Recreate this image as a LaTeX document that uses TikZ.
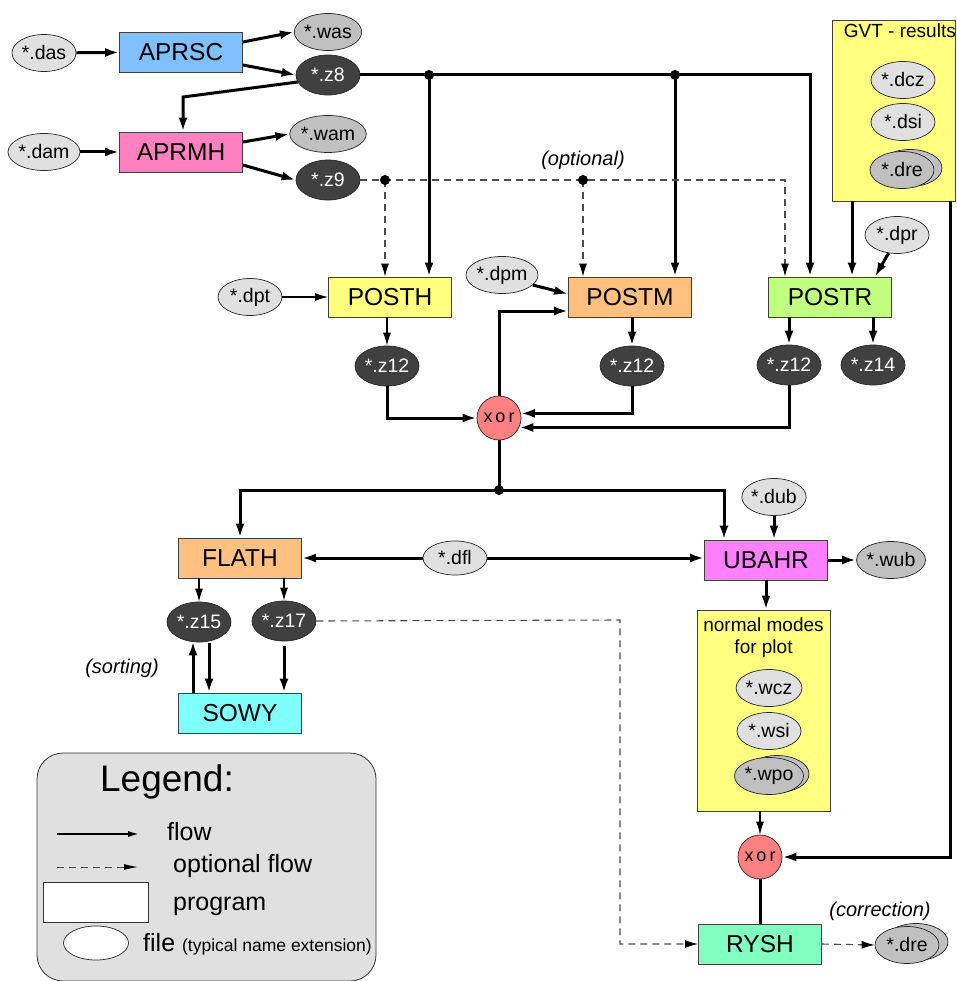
\documentclass[tikz,border=0pt]{standalone}
\usepackage{fontspec}
\setmainfont{Liberation Sans}
\usetikzlibrary{shapes.geometric,arrows.meta}
\definecolor{cblue}{HTML}{80C0FF}
\definecolor{cpink}{HTML}{FF80C0}
\definecolor{cyel}{HTML}{FFFF80}
\definecolor{corange}{HTML}{FFC080}
\definecolor{cgreen}{HTML}{C0FF80}
\definecolor{ccyan}{HTML}{80FFFF}
\definecolor{cmag}{HTML}{FF80FF}
\definecolor{cmint}{HTML}{80FFC0}
\definecolor{cxor}{HTML}{FF8080}
\definecolor{flight}{HTML}{E0E0E0}
\definecolor{fmid}{HTML}{C0C0C0}
\definecolor{fdark}{HTML}{404040}
\begin{document}
\begin{tikzpicture}[x=1pt,y=-1pt,
  prog/.style={draw=black!75, line width=0.8pt, minimum width=123pt, minimum height=40pt, inner sep=0pt, font=\fontsize{24.5}{28}\selectfont},
  fl/.style={ellipse, draw=black!85, line width=0.7pt, fill=flight, minimum width=64pt, minimum height=37pt, inner sep=0pt, font=\fontsize{19.5}{22}\selectfont},
  fd/.style={fl, fill=fdark, text=white, minimum height=40pt},
  fm/.style={fl, fill=fmid},
  xorn/.style={circle, draw=black!85, line width=0.7pt, fill=cxor, minimum size=44pt, inner sep=0pt, font=\fontsize{18}{20}\selectfont},
  grp/.style={draw=black!75, line width=0.8pt, fill=cyel, inner sep=0pt},
  flow/.style={line width=3pt, -{Latex[length=14pt,width=9pt]}},
  tflow/.style={line width=1.2pt, -{Latex[length=13pt,width=8pt]}},
  plainflow/.style={line width=3pt},
  opt/.style={line width=1.1pt, draw=black!70, dash pattern=on 7pt off 5pt, -{Latex[length=13pt,width=8pt,black]}},
  note/.style={font=\fontsize{20}{23}\selectfont\itshape},
  dotn/.style={circle, fill=black, inner sep=0pt, minimum size=10pt}
]
\useasboundingbox (0,0) rectangle (956,981);

% ---------- top-left programs and files
\node[fl] (das) at (44,53) {*.das};
\node[prog, fill=cblue] (aprsc) at (181,52) {APRSC};
\node[fm] (was) at (328,32) {*.was};
\node[fd] (z8) at (328,75) {*.z8};
\node[fl] (dam) at (44,152) {*.dam};
\node[prog, fill=cpink] (aprmh) at (181,152) {APRMH};
\node[fm] (wam) at (328,134) {*.wam};
\node[fd] (z9) at (328,180) {*.z9};

\draw[flow] (das) -- (aprsc);
\draw[flow] (dam) -- (aprmh);
\draw[flow] ([yshift=10pt]aprsc.east) -- (was.west);
\draw[flow] ([yshift=-13pt]aprsc.east) -- (z8.west);
\draw[flow] ([yshift=10pt]aprmh.east) -- (wam.west);
\draw[flow] ([yshift=-13pt]aprmh.east) -- (z9.west);
\coordinate (k1) at (183,97);
\draw[flow] (z8.193) -- (k1) -- (k1 |- aprmh.north);

% ---------- GVT results group
\node[grp, minimum width=123pt, minimum height=181pt] (gvt) at (893.5,110.5) {};
\node[font=\fontsize{19}{22}\selectfont, anchor=north east, inner sep=0pt] (gvtt) at (956,24) {GVT - results};
\node[fl] (dcz) at (903,80) {*.dcz};
\node[fl] (dsi) at (903,122) {*.dsi};
\node[fm] (dreb) at (910,168) {};
\node[fm] (dre) at (902,170) {*.dre};

% ---------- POST programs
\node[prog, fill=cyel] (posth) at (390,297) {POSTH};
\node[prog, fill=corange] (postm) at (630,297) {POSTM};
\node[prog, fill=cgreen] (postr) at (830,297) {POSTR};
\node[fl] (dpt) at (250,297) {*.dpt};
\node[fl] (dpm) at (502,275) {*.dpm};
\node[fl] (dpr) at (897,235) {*.dpr};

% z8 distribution
\coordinate (j1) at (429,75);
\coordinate (j2) at (675,75);
\coordinate (c1) at (810,75);
\draw[flow] (z8.east) -- (c1) -- (c1 |- postr.north);
\draw[flow] (j1) -- (j1 |- posth.north);
\draw[flow] (j2) -- (j2 |- postm.north);
\node[dotn] at (j1) {};
\node[dotn] at (j2) {};

% z9 optional distribution
\coordinate (o1) at (385,180);
\coordinate (o2) at (583,180);
\coordinate (c2) at (785,180);
\draw[opt] (z9.east) -- (c2) -- (c2 |- postr.north);
\draw[opt] (o1) -- (o1 |- posth.north);
\draw[opt] (o2) -- (o2 |- postm.north);
\node[dotn] at (o1) {};
\node[dotn] at (o2) {};
\node[note] (optl) at (583,160) {(optional)};

\draw[tflow] (dpt) -- (posth);
\draw[flow] (dpm.-18) -- ([yshift=3pt]postm.west);
\coordinate (g1) at ([xshift=-41.5pt]gvt.south);
\draw[flow] (g1) -- (g1 |- postr.north);
\draw[flow] (dpr.-115) -- ([xshift=45pt]postr.north);

% outputs of POST
\node[fd] (z12a) at (387,366) {*.z12};
\node[fd] (z12b) at (632,366) {*.z12};
\node[fd] (z12c) at (789,365) {*.z12};
\node[fd] (z14) at (873,365) {*.z14};
\draw[tflow] (z12a |- posth.south) -- (z12a.north);
\draw[flow] (z12b |- postm.south) -- (z12b.north);
\draw[flow] (z12c |- postr.south) -- (z12c.north);
\draw[flow] (z14 |- postr.south) -- (z14.north);

\node[xorn] (xor1) at (499,418) {x\,o\,r};
\draw[flow] (z12a.south) -- (z12a.south |- xor1.west) -- (xor1.west);
\draw[flow] (z12b.south) -- (z12b.south |- xor1.12) -- (xor1.12);
\draw[flow] (z12c.south) -- (z12c.south |- xor1.-25) -- (xor1.-25);
\coordinate (pm) at ([yshift=-14pt]postm.west);
\draw[flow] (xor1.north) -- (xor1.north |- pm) -- (pm);

% ---------- FLATH / UBAHR
\node[prog, fill=corange] (flath) at (240,558) {FLATH};
\node[prog, fill=cmag] (ubahr) at (766,560) {UBAHR};
\node[fl, minimum height=34pt] (dfl) at (455,558) {*.dfl};
\node[fl] (dub) at (774,497) {*.dub};
\node[fm] (wub) at (891,560) {*.wub};

\coordinate (j3) at (499,490);
\coordinate (u1) at ([xshift=-42pt]ubahr.north);
\draw[plainflow] (xor1.south) -- (j3);
\draw[flow] (j3) -| (flath.north);
\draw[flow] (j3) -| (u1);
\node[dotn] at (j3) {};
\draw[flow] (dfl.west) -- (flath.east);
\draw[flow] (dfl.east) -- (ubahr.west |- dfl.east);
\draw[flow] (dub.south) -- (dub.south |- ubahr.north);
\draw[flow] (ubahr.east) -- (wub.west);

% normal modes group
\node[grp, minimum width=133pt, minimum height=201pt] (nm) at (763.5,710.5) {};
\node[font=\fontsize{19}{22}\selectfont, align=center, anchor=north] (nmt) at (763.5,614) {normal modes\\for plot};
\node[fl] (wcz) at (769,688) {*.wcz};
\node[fl] (wsi) at (769,731) {*.wsi};
\node[fm] (wpob) at (777,774) {};
\node[fm] (wpo) at (769,776) {*.wpo};
\draw[flow] (ubahr.south) -- (ubahr.south |- nm.north);

% ---------- FLATH outputs and SOWY
\node[fd] (z15) at (199,622) {*.z15};
\node[fd] (z17) at (284,621) {*.z17};
\node[prog, fill=ccyan] (sowy) at (240,713) {SOWY};
\node[note] (sortl) at (122,668) {(sorting)};
\draw[tflow] (z15 |- flath.south) -- (z15.north);
\draw[tflow] (z17 |- flath.south) -- (z17.north);
\coordinate (s1) at ([xshift=-47pt]sowy.north);
\coordinate (s2) at ([xshift=-31pt]sowy.north);
\draw[flow] (s1) -- ([yshift=1pt]s1 |- z15.south);
\draw[flow] ([yshift=-1pt]s2 |- z15.south) -- (s2);
\draw[flow, shorten <=5pt] (z17.south) -- (z17.south |- sowy.north);

% ---------- xor2 and RYSH
\node[xorn] (xor2) at (760,857) {x\,o\,r};
\node[prog, fill=cmint] (rysh) at (760,944) {RYSH};
\node[fm] (dre2b) at (916,942) {};
\node[fm] (dre2) at (907,945) {*.dre};
\node[note] (corrl) at (880,911) {(correction)};
\draw[tflow] (xor2 |- nm.south) -- (xor2.north);
\coordinate (g2) at (950,201);
\draw[flow] (g2) -- (g2 |- xor2.east) -- (xor2.east);
\draw[plainflow] (xor2.south) -- (xor2.south |- rysh.north);
\draw[opt] (rysh.east) -- (dre2.west);
\coordinate (c3) at (620,620);
\draw[opt] (z17.east) -- (c3) -- (c3 |- rysh.west) -- (rysh.west);

% ---------- Legend
\node[draw=black!80, line width=0.8pt, fill=flight, rounded corners=26pt, minimum width=339pt, minimum height=228pt, inner sep=0pt] (leg) at (206.5,867) {};
\node[font=\fontsize{37}{40}\selectfont] (legt) at (167,782) {Legend:};
\coordinate (lf1) at (57,834);
\coordinate (lf2) at (141,834);
\coordinate (lo1) at (57,867);
\coordinate (lo2) at (138,867);
\draw[line width=2.4pt, -{Latex[length=13pt,width=6pt]}] (lf1) -- (lf2);
\draw[line width=1pt, draw=black!70, dash pattern=on 7pt off 5pt, -{Latex[length=14pt,width=6pt,black]}] (lo1) -- (lo2);
\node[font=\fontsize{25}{28}\selectfont, anchor=west, inner sep=0pt] (lft) at (167,832) {flow};
\node[font=\fontsize{25}{28}\selectfont, anchor=west, inner sep=0pt] (lot) at (173,866) {optional flow};
\node[draw=black!80, line width=0.8pt, fill=white, minimum width=105pt, minimum height=40pt, inner sep=0pt] (lprog) at (95.5,902) {};
\node[font=\fontsize{25}{28}\selectfont, anchor=west, inner sep=0pt] (lpt) at (173,906) {program};
\node[ellipse, draw=black!85, line width=0.7pt, fill=white, minimum width=65pt, minimum height=34pt, inner sep=0pt] (lfile) at (96,943) {};
\node[anchor=west, inner sep=0pt] (lfit) at (143,944) {\fontsize{25}{28}\selectfont file \fontsize{17.5}{20}\selectfont(typical name extension)};
\end{tikzpicture}
\end{document}
